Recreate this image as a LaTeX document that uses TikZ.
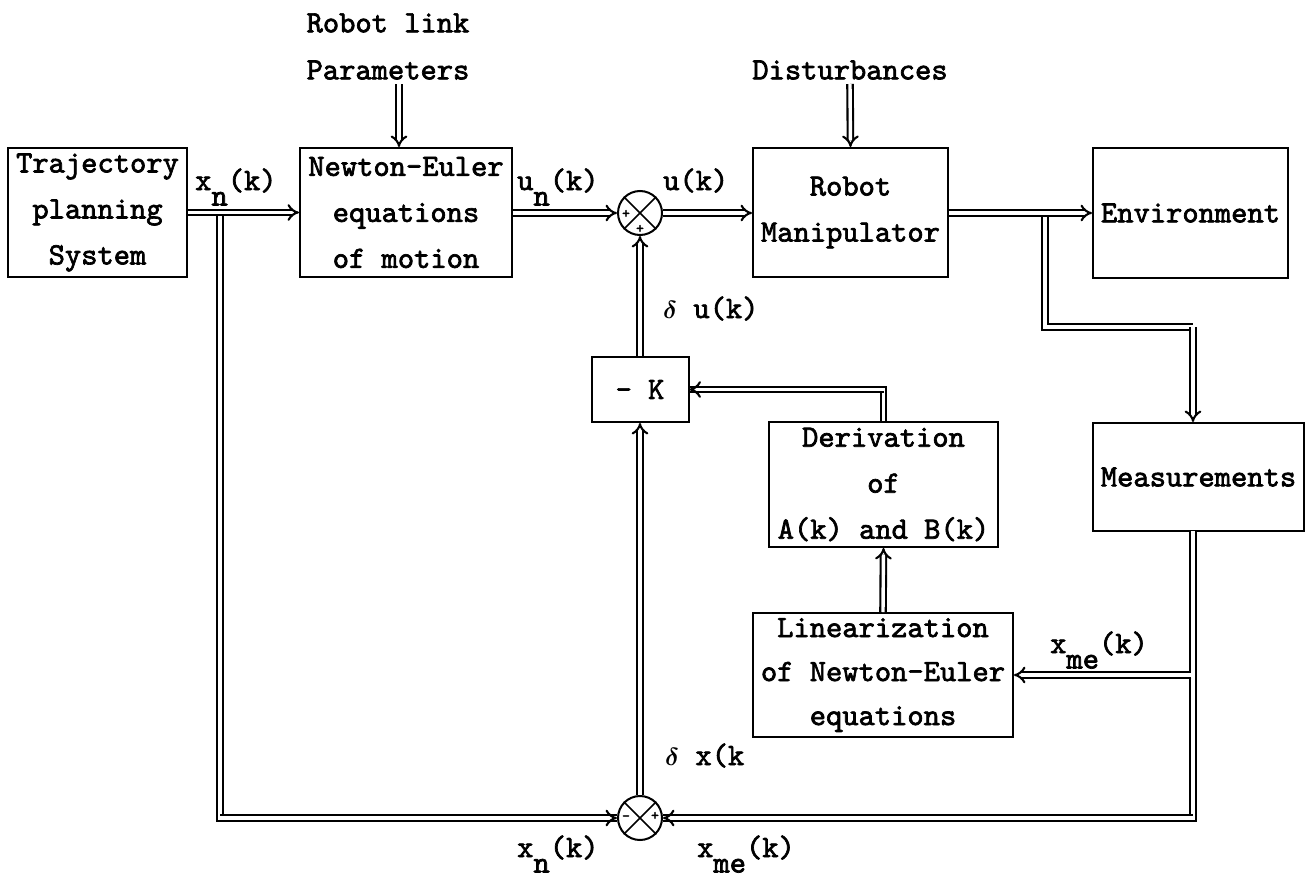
\documentclass[tikz,border=0pt]{standalone}
\usepackage{fontspec}
\usepackage{bm}
\newfontfamily\tyfont{lmmono10-regular.otf}[FakeBold=2.2]
\usetikzlibrary{arrows.meta}
\newcommand{\lsub}[1]{\raisebox{-0.5em}{#1}}
\tikzset{
  txt/.style={font=\tyfont\bfseries\fontsize{31}{46}\selectfont, inner sep=0pt, align=center},
  blk/.style={txt, draw, line width=2pt},
  sumj/.style={draw, circle, line width=2pt, minimum size=44pt, inner sep=0pt},
  sgn/.style={font=\tyfont\bfseries\fontsize{15}{15}\selectfont, inner sep=0pt},
  dbl/.style={double, double distance=3.4pt, line width=2.1pt, -{Implies[length=7pt,width=16pt]}},
  dbln/.style={double, double distance=3.4pt, line width=2.1pt},
}
\begin{document}
\begin{tikzpicture}[x=1pt,y=-1pt]
\useasboundingbox (0,0) rectangle (1312,878);
% blocks
\node[blk, minimum width=179pt, minimum height=129pt] (traj) at (97.5,212.5) {Trajectory\\planning\\System};
\node[blk, minimum width=212pt, minimum height=129pt] (ne) at (406,212.5) {Newton-Euler\\equations\\of motion};
\node[blk, minimum width=195pt, minimum height=129pt] (robot) at (850.5,212.5) {\raisebox{6pt}{Robot}\\\raisebox{6pt}{Manipulator}};
\node[blk, minimum width=195pt, minimum height=130pt] (env) at (1190.5,213) {\raisebox{-10pt}{Environment}};
\node[blk, minimum width=211pt, minimum height=108pt] (meas) at (1198.5,477) {\raisebox{-6pt}{Measurements}};
\node[blk, minimum width=229pt, minimum height=125pt] (der) at (883.5,484.5) {Derivation\\of\\A(k) and B(k)};
\node[blk, minimum width=260pt, minimum height=124pt, font=\tyfont\bfseries\fontsize{31}{44}\selectfont] (lin) at (883,675) {Linearization\\of Newton-Euler\\equations};
\node[blk, minimum width=97pt, minimum height=65pt] (K) at (640,389.5) {- K};
% summing junctions
\node[sumj] (s1) at (640,213) {};
\node[sumj] (s2) at (640,818) {};
\draw[line width=1.7pt] (s1.north west) -- (s1.south east) (s1.north east) -- (s1.south west);
\draw[line width=1.7pt] (s2.north west) -- (s2.south east) (s2.north east) -- (s2.south west);
\node[sgn] (s1a) at (626,214) {+};
\node[sgn] (s1b) at (640,229) {+};
\node[sgn] (s2a) at (626,818) {-};
\node[sgn] (s2b) at (655,816) {+};
% input labels
\node[txt] (rl) at (388,23) {Robot link};
\node[txt] (par) at (388,70) {Parameters};
\node[txt] (dist) at (850,70) {Disturbances};
% signal labels
\node[txt, anchor=base west] (lxn) at (195,190) {x\lsub{n}(k)};
\node[txt, anchor=base west] (lun) at (517,190) {u\lsub{n}(k)};
\node[txt, anchor=base west] (lu) at (663,190) {u(k)};
\node[txt, anchor=base west] (ldu) at (663,318) {$\bm{\delta}$ u(k)};
\node[txt, anchor=base west] (ldx) at (665,765) {$\bm{\delta}$ x(k};
\node[txt, anchor=base west] (lxn2) at (517,857) {x\lsub{n}(k)};
\node[txt, anchor=base west] (lxm2) at (697,857) {x\lsub{me}(k)};
\node[txt, anchor=base west] (lxm) at (1050,653) {x\lsub{me}(k)};
% coordinates
\coordinate (pin) at (399,84);
\coordinate (din) at (850,84);
\coordinate (bt) at (220,214.7);
\coordinate (bm) at (1045,214.7);
\coordinate (bmt) at (1045,327);
\coordinate (mv) at (1193,327);
\coordinate (mb) at (1193,531);
\coordinate (bl) at (1191.3,675);
% connectors
\draw[dbl] (pin) -- (pin |- ne.north);
\draw[dbl] (din) -- (robot.north);
\draw[dbln] (bt) |- (s2.west);
\draw[dbl] (bt |- s2.west) -- (s2.west);
\draw[dbl] (traj.east) -- (ne.west);
\draw[dbl] (ne.east |- s1.west) -- (s1.west);
\draw[dbl] (s1.east) -- (robot.west |- s1.east);
\draw[dbln] (bm) -- (bmt) -- (mv);
\draw[dbl] (mv) -- (mv |- meas.north);
\draw[dbl] (robot.east |- env.west) -- (env.west);
\draw[dbln] (mb) |- (s2.east);
\draw[dbl] (mb |- s2.east) -- (s2.east);
\draw[dbl] (bl) -- (lin.east);
\draw[dbl] (lin.north) -- (der.south);
\draw[dbln] (der.north) |- (K.east);
\draw[dbl] (der.north |- K.east) -- (K.east);
\draw[dbl] (K.north) -- (s1.south);
\draw[dbl] (s2.north) -- (K.south);
\end{tikzpicture}
\end{document}
